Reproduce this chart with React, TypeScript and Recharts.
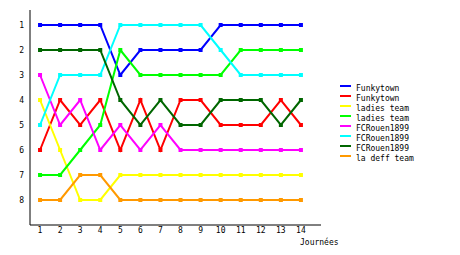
import React from 'react';
import { LineChart, Line, XAxis, YAxis } from 'recharts';

// matchdays and each team's ranking after each one
const days = [1, 2, 3, 4, 5, 6, 7, 8, 9, 10, 11, 12, 13, 14];
const ranks = [1, 2, 3, 4, 5, 6, 7, 8];

const funkytownA = [1, 1, 1, 1, 3, 2, 2, 2, 2, 1, 1, 1, 1, 1];
const funkytownB = [6, 4, 5, 4, 6, 4, 6, 4, 4, 5, 5, 5, 4, 5];
const ladiesA = [4, 6, 8, 8, 7, 7, 7, 7, 7, 7, 7, 7, 7, 7];
const ladiesB = [7, 7, 6, 5, 2, 3, 3, 3, 3, 3, 2, 2, 2, 2];
const rouenA = [3, 5, 4, 6, 5, 6, 5, 6, 6, 6, 6, 6, 6, 6];
const rouenB = [5, 3, 3, 3, 1, 1, 1, 1, 1, 2, 3, 3, 3, 3];
const rouenC = [2, 2, 2, 2, 4, 5, 4, 5, 5, 4, 4, 4, 5, 4];
const deff = [8, 8, 7, 7, 8, 8, 8, 8, 8, 8, 8, 8, 8, 8];

const series = [
  { key: 's1', name: 'Funkytown', values: funkytownA, color: '#0000ff' },
  { key: 's2', name: 'Funkytown', values: funkytownB, color: '#ff0000' },
  { key: 's3', name: 'ladies team', values: ladiesA, color: '#ffff00' },
  { key: 's4', name: 'ladies team', values: ladiesB, color: '#00ff00' },
  { key: 's5', name: 'FCRouen1899', values: rouenA, color: '#ff00ff' },
  { key: 's6', name: 'FCRouen1899', values: rouenB, color: '#00ffff' },
  { key: 's7', name: 'FCRouen1899', values: rouenC, color: '#006600' },
  { key: 's8', name: 'la deff team', values: deff, color: '#ff9900' },
];

const rows = days.map((d, i) => {
  const row: Record<string, number> = { day: d };
  series.forEach(s => { row[s.key] = s.values[i]; });
  return row;
});

const FONT = '"DejaVu Sans Mono", monospace';

const SquareDot = (color: string) => (props: any) => {
  const { cx, cy, index } = props;
  if (cx == null || cy == null) return null;
  return <rect key={index} x={cx - 2} y={cy - 2} width={4} height={4} fill={color} />;
};

export default function App() {
  return (
    <div style={{ position: 'relative', width: 460, height: 255, background: '#fff', fontFamily: FONT }}>
      <style>{'body{margin:0}'}</style>
      <LineChart width={460} height={255} data={rows} margin={{ top: 10, right: 139, bottom: 0, left: 0 }}>
        <XAxis
          dataKey="day"
          type="number"
          domain={[0.5, 15]}
          ticks={days}
          tickLine={false}
          tickSize={2}
          tickMargin={0}
          height={30}
          stroke="#000"
          tick={{ fill: '#000', fontSize: 8, fontFamily: FONT }}
        />
        <YAxis
          type="number"
          reversed
          domain={[0.4, 9]}
          ticks={ranks}
          tickLine={false}
          tickSize={6}
          tickMargin={0}
          width={30}
          stroke="#000"
          tick={{ fill: '#000', fontSize: 8, fontFamily: FONT }}
        />
        {series.map(s => (
          <Line
            key={s.key}
            dataKey={s.key}
            name={s.name}
            type="linear"
            stroke={s.color}
            strokeWidth={2}
            dot={SquareDot(s.color)}
            activeDot={false}
            isAnimationActive={false}
          />
        ))}
      </LineChart>
      <div style={{ position: 'absolute', left: 300, top: 238, fontSize: 8, lineHeight: '10px' }}>Journées</div>
      <div style={{ position: 'absolute', left: 340, top: 83 }}>
        {series.map(s => (
          <div key={s.key} style={{ display: 'flex', alignItems: 'center', height: 10, fontSize: 8 }}>
            <span style={{ display: 'inline-block', width: 11, height: 2, background: s.color, marginRight: 5, marginTop: -4 }} />
            <span>{s.name}</span>
          </div>
        ))}
      </div>
    </div>
  );
}
